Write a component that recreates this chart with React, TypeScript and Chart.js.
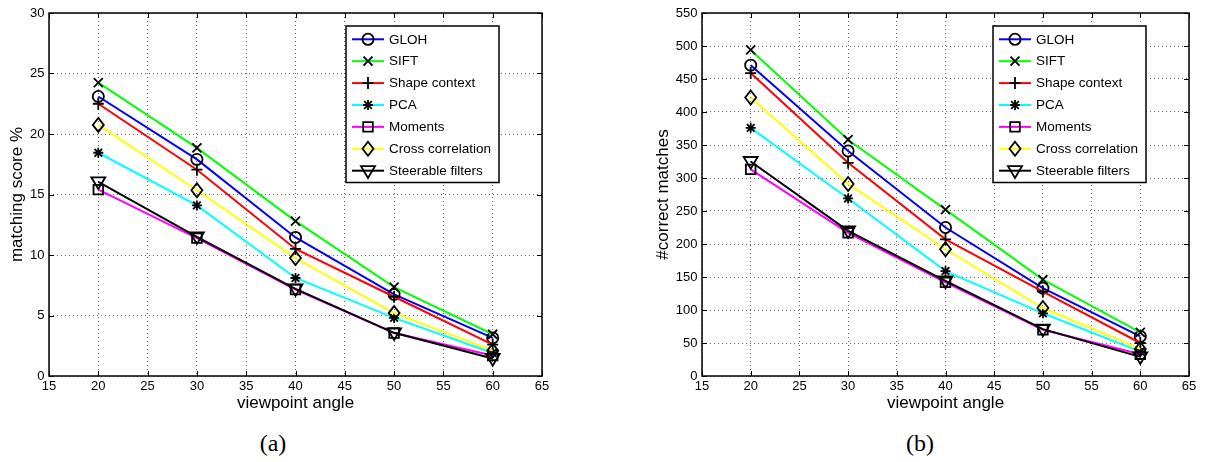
import React, { useEffect, useRef } from 'react';
import { Chart, registerables } from 'chart.js';

Chart.register(...registerables);

// ---- data -------------------------------------------------------------
const angles = [20, 30, 40, 50, 60];
const angleMin = 15;
const angleMax = 65;
const angleStep = 5;

const methodNames = [
  'GLOH',
  'SIFT',
  'Shape context',
  'PCA',
  'Moments',
  'Cross correlation',
  'Steerable filters',
];
const lineColors = ['#0000ff', '#00ff00', '#ff0000', '#00ffff', '#ff00ff', '#ffff00', '#000000'];
const markerKinds = ['circle', 'x', 'plus', 'star', 'square', 'diamond', 'triangleDown'];

// matching score % per viewpoint angle
const scoreGLOH = [23.1, 17.9, 11.45, 6.75, 3.15];
const scoreSIFT = [24.25, 18.85, 12.8, 7.35, 3.45];
const scoreShape = [22.5, 17.05, 10.5, 6.55, 2.6];
const scorePCA = [18.45, 14.1, 8.1, 4.8, 1.9];
const scoreMoments = [15.4, 11.4, 7.15, 3.55, 1.7];
const scoreCross = [20.75, 15.35, 9.75, 5.2, 2.1];
const scoreSteerable = [16.05, 11.5, 7.2, 3.57, 1.45];
const scoreMax = 30;
const scoreStep = 5;

// #correct matches per viewpoint angle
const matchGLOH = [471, 341, 225, 133, 60];
const matchSIFT = [494, 358, 252, 146, 66];
const matchShape = [459, 323, 207, 128, 50];
const matchPCA = [376, 269, 159, 95, 37];
const matchMoments = [313, 217, 142, 70, 33];
const matchCross = [422, 291, 192, 103, 41];
const matchSteerable = [325, 220, 144, 71, 29];
const matchMax = 550;
const matchStep = 50;

// ---- drawing helpers ---------------------------------------------------
const SANS = '"Liberation Sans", Arial, Helvetica, sans-serif';
const PANEL_HEIGHT = 414;

function traceMarker(ctx: CanvasRenderingContext2D, kind: string, x: number, y: number) {
  ctx.beginPath();
  switch (kind) {
    case 'circle':
      ctx.arc(x, y, 5.6, 0, Math.PI * 2);
      break;
    case 'x':
      ctx.moveTo(x - 4.5, y - 4.5);
      ctx.lineTo(x + 4.5, y + 4.5);
      ctx.moveTo(x + 4.5, y - 4.5);
      ctx.lineTo(x - 4.5, y + 4.5);
      break;
    case 'plus':
      ctx.moveTo(x - 5.5, y);
      ctx.lineTo(x + 5.5, y);
      ctx.moveTo(x, y - 6);
      ctx.lineTo(x, y + 6);
      break;
    case 'star':
      ctx.moveTo(x - 5, y);
      ctx.lineTo(x + 5, y);
      ctx.moveTo(x, y - 5);
      ctx.lineTo(x, y + 5);
      ctx.moveTo(x - 3.8, y - 3.8);
      ctx.lineTo(x + 3.8, y + 3.8);
      ctx.moveTo(x + 3.8, y - 3.8);
      ctx.lineTo(x - 3.8, y + 3.8);
      break;
    case 'square':
      ctx.rect(x - 4.8, y - 4.8, 9.6, 9.6);
      break;
    case 'diamond':
      ctx.moveTo(x, y - 7);
      ctx.lineTo(x + 5.5, y);
      ctx.lineTo(x, y + 7);
      ctx.lineTo(x - 5.5, y);
      ctx.closePath();
      break;
    case 'triangleDown':
      ctx.moveTo(x - 7, y - 4.5);
      ctx.lineTo(x + 7, y - 4.5);
      ctx.lineTo(x, y + 7.2);
      ctx.closePath();
      break;
  }
  ctx.stroke();
}

function strokeMarker(ctx: CanvasRenderingContext2D, kind: string, x: number, y: number) {
  ctx.save();
  ctx.strokeStyle = '#000';
  ctx.lineWidth = 1.8;
  ctx.lineJoin = 'miter';
  traceMarker(ctx, kind, x, y);
  ctx.restore();
}

// Markers, axes box with inward ticks, and the boxed legend.
const matlabLook = {
  id: 'matlabLook',
  afterDatasetDraw(chart: any, args: any) {
    const kind = markerKinds[args.index];
    const ctx = chart.ctx;
    for (const el of args.meta.data) {
      strokeMarker(ctx, kind, el.x, el.y);
    }
  },
  afterDraw(chart: any) {
    const ctx: CanvasRenderingContext2D = chart.ctx;
    const { left, right, top, bottom } = chart.chartArea;
    const xs = chart.scales.x;
    const ys = chart.scales.y;
    ctx.save();
    // inward tick marks on all four sides
    ctx.strokeStyle = '#000';
    ctx.lineWidth = 1;
    ctx.beginPath();
    const tl = 5;
    for (const t of xs.ticks) {
      const px = Math.round(xs.getPixelForValue(t.value)) + 0.5;
      ctx.moveTo(px, bottom);
      ctx.lineTo(px, bottom - tl);
      ctx.moveTo(px, top);
      ctx.lineTo(px, top + tl);
    }
    for (const t of ys.ticks) {
      const py = Math.round(ys.getPixelForValue(t.value)) + 0.5;
      ctx.moveTo(left, py);
      ctx.lineTo(left + tl, py);
      ctx.moveTo(right, py);
      ctx.lineTo(right - tl, py);
    }
    ctx.stroke();
    // axes box
    ctx.lineWidth = 1.5;
    ctx.strokeRect(left, top, right - left, bottom - top);

    // legend
    const boxRight = right - 43;
    const boxLeft = boxRight - 153;
    const boxTop = top + 13;
    const rowGap = 21.9;
    const boxBottom = boxTop + 156.5;
    ctx.fillStyle = '#fff';
    ctx.fillRect(boxLeft, boxTop, boxRight - boxLeft, boxBottom - boxTop);
    ctx.lineWidth = 1.5;
    ctx.strokeStyle = '#000';
    ctx.strokeRect(boxLeft, boxTop, boxRight - boxLeft, boxBottom - boxTop);
    ctx.font = `13.5px ${SANS}`;
    ctx.textBaseline = 'middle';
    ctx.textAlign = 'left';
    methodNames.forEach((name, i) => {
      const cy = boxTop + 13.3 + rowGap * i;
      ctx.strokeStyle = lineColors[i];
      ctx.lineWidth = 2;
      ctx.beginPath();
      ctx.moveTo(boxLeft + 6, cy);
      ctx.lineTo(boxLeft + 38, cy);
      ctx.stroke();
      strokeMarker(ctx, markerKinds[i], boxLeft + 22, cy);
      ctx.fillStyle = '#000';
      ctx.fillText(name, boxLeft + 43, cy + 0.5);
    });
    ctx.restore();
  },
};

type PanelProps = {
  series: number[][];
  yMax: number;
  yStep: number;
  yTitle: string;
  left: number;
  width: number;
  yAxisWidth: number;
  padRight: number;
};

function Panel({ series, yMax, yStep, yTitle, left, width, yAxisWidth, padRight }: PanelProps) {
  const ref = useRef<HTMLCanvasElement>(null);

  useEffect(() => {
    const tickFont = { family: SANS, size: 13 };
    const titleFont = { family: SANS, size: 17 };
    const chart = new Chart(ref.current as HTMLCanvasElement, {
      type: 'line',
      data: {
        datasets: series.map((vals, i) => ({
          label: methodNames[i],
          data: angles.map((a, j) => ({ x: a, y: vals[j] })),
          borderColor: lineColors[i],
          backgroundColor: lineColors[i],
          borderWidth: 2,
          pointRadius: 0,
          pointHoverRadius: 0,
          fill: false,
          tension: 0,
          order: series.length - 1 - i,
        })),
      },
      options: {
        animation: false,
        responsive: false,
        events: [],
        layout: { padding: { top: 13, right: padRight, left: 0, bottom: 0 } },
        plugins: {
          legend: { display: false },
          tooltip: { enabled: false },
        },
        scales: {
          x: {
            type: 'linear',
            min: angleMin,
            max: angleMax,
            ticks: { stepSize: angleStep, font: tickFont, color: '#000', padding: 3 },
            grid: { color: '#666', lineWidth: 1, drawTicks: false },
            border: { display: false, dash: [1, 3] },
            title: {
              display: true,
              text: 'viewpoint angle',
              font: titleFont,
              color: '#000',
              padding: { top: 0, bottom: 0 },
            },
            afterFit(scale: any) {
              scale.height = PANEL_HEIGHT - 376;
            },
          },
          y: {
            type: 'linear',
            min: 0,
            max: yMax,
            ticks: { stepSize: yStep, font: tickFont, color: '#000', padding: 4.5 },
            grid: { color: '#666', lineWidth: 1, drawTicks: false },
            border: { display: false, dash: [1, 3] },
            title: {
              display: true,
              text: yTitle,
              font: titleFont,
              color: '#000',
              padding: { top: 7, bottom: 0 },
            },
            afterFit(scale: any) {
              scale.width = yAxisWidth;
            },
          },
        },
      } as any,
      plugins: [matlabLook],
    });
    return () => chart.destroy();
  }, []);

  return (
    <canvas
      ref={ref}
      width={width}
      height={PANEL_HEIGHT}
      style={{ position: 'absolute', left, top: 0, width, height: PANEL_HEIGHT }}
    />
  );
}

function Caption({ text, centerX }: { text: string; centerX: number }) {
  return (
    <div
      style={{
        position: 'absolute',
        left: centerX - 50,
        top: 430,
        width: 100,
        textAlign: 'center',
        fontFamily: '"Liberation Serif", "Times New Roman", serif',
        fontSize: 24,
        lineHeight: '26px',
        color: '#000',
      }}
    >
      {text}
    </div>
  );
}

export default function App() {
  const scoreSeries = [scoreGLOH, scoreSIFT, scoreShape, scorePCA, scoreMoments, scoreCross, scoreSteerable];
  const matchSeries = [matchGLOH, matchSIFT, matchShape, matchPCA, matchMoments, matchCross, matchSteerable];
  return (
    <div
      style={{
        position: 'absolute',
        left: 0,
        top: 0,
        width: 1206,
        height: 462,
        background: '#fff',
        overflow: 'hidden',
      }}
    >
      <Panel
        series={scoreSeries}
        yMax={scoreMax}
        yStep={scoreStep}
        yTitle="matching score %"
        left={0}
        width={600}
        yAxisWidth={49}
        padRight={58}
      />
      <Panel
        series={matchSeries}
        yMax={matchMax}
        yStep={matchStep}
        yTitle="#correct matches"
        left={646}
        width={560}
        yAxisWidth={56}
        padRight={17}
      />
      <Caption text="(a)" centerX={273} />
      <Caption text="(b)" centerX={920} />
    </div>
  );
}
